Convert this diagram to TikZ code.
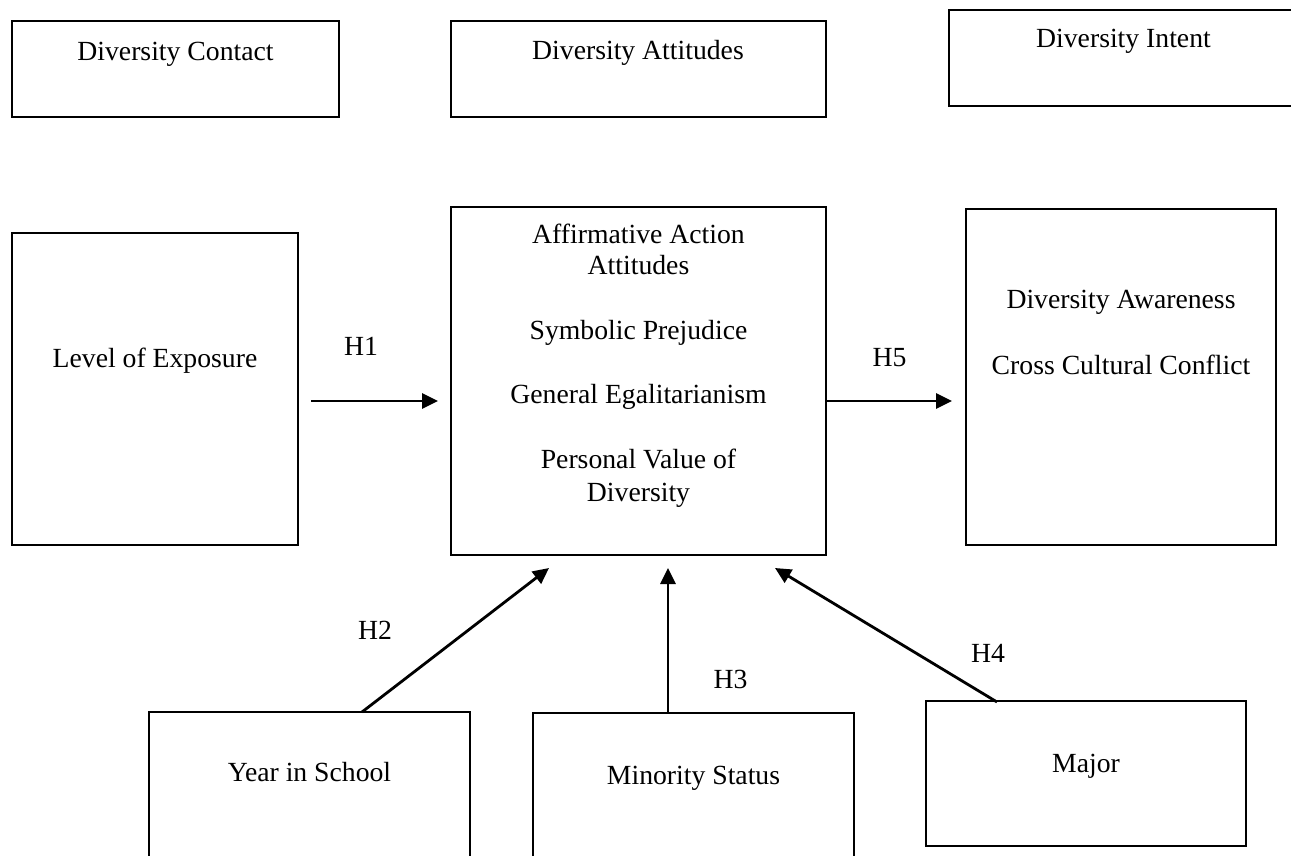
\documentclass[tikz,border=0pt]{standalone}
\usepackage{fontspec}
\setmainfont{Liberation Serif}
\usetikzlibrary{arrows.meta}
\tikzset{
  box/.style={draw=black, line width=1.8pt, outer sep=0pt, inner sep=0pt, anchor=north west, rectangle},
  topbox/.style={box, line width=2.6pt},
  txt/.style={inner sep=0pt, anchor=base, font=\fontsize{27.7}{32}\selectfont},
  arr/.style={draw=black, line width=2.8pt, -{Triangle[length=16pt,width=15pt]}},
}
\begin{document}
\begin{tikzpicture}[x=1pt,y=-1pt]
\clip (0,0) rectangle (1291,855);
\fill[white] (0,0) rectangle (1291,855);
% boxes
\node[topbox, minimum width=327pt, minimum height=96pt] (contact) at (12,21) {};
\node[topbox, minimum width=375pt, minimum height=96pt] (attit) at (451,21) {};
\node[topbox, minimum width=343pt, minimum height=96pt] (intent) at (949,10) {};
\node[box, minimum width=286pt, minimum height=312pt] (expo) at (12,233) {};
\node[box, minimum width=375pt, minimum height=348pt] (center) at (451,207) {};
\node[box, minimum width=310pt, minimum height=336pt] (outc) at (966,209) {};
\node[box, minimum width=321pt, minimum height=170pt] (year) at (149,712) {};
\node[box, minimum width=321pt, minimum height=170pt] (minor) at (533,713) {};
\node[box, minimum width=320pt, minimum height=145pt] (major) at (926,701) {};
% texts
\node[txt] (tcontact) at (175.5,60) {Diversity Contact};
\node[txt] (tattit) at (638,59) {Diversity Attitudes};
\node[txt] (tintent) at (1123.5,47) {Diversity Intent};
\node[txt] (texpo) at (155,367) {Level of Exposure};
\node[txt] (tc1) at (638.5,243) {Affirmative Action};
\node[txt] (tc2) at (638.5,274) {Attitudes};
\node[txt] (tc3) at (638.5,339) {Symbolic Prejudice};
\node[txt] (tc4) at (638.5,403) {General Egalitarianism};
\node[txt] (tc5) at (638.5,468) {Personal Value of};
\node[txt] (tc6) at (638.5,501) {Diversity};
\node[txt] (to1) at (1121,308) {Diversity Awareness};
\node[txt] (to2) at (1121,374) {Cross Cultural Conflict};
\node[txt] (tyear) at (309.5,781) {Year in School};
\node[txt] (tminor) at (693.5,784) {Minority Status};
\node[txt] (tmajor) at (1086,772) {Major};
% hypothesis labels
\node[txt] (h1) at (361,355) {H1};
\node[txt] (h5) at (889.5,366) {H5};
\node[txt] (h2) at (375,639) {H2};
\node[txt] (h3) at (730.5,688) {H3};
\node[txt] (h4) at (988,662) {H4};
% connector end points
\coordinate (h1s) at (311,401);
\coordinate (h1e) at (438,401);
\coordinate (h5s) at (826,401);
\coordinate (h5e) at (952,401);
\coordinate (h2s) at (362,712);
\coordinate (h2e) at (549,568);
\coordinate (h3s) at (668,713);
\coordinate (h3e) at (668,568);
\coordinate (h4s) at (997,702);
\coordinate (h4e) at (775,568);
% connectors
\draw[arr] (h1s) -- (h1e);
\draw[arr] (h5s) -- (h5e);
\draw[arr] (h2s) -- (h2e);
\draw[arr] (h3s) -- (h3e);
\draw[arr] (h4s) -- (h4e);
\end{tikzpicture}
\end{document}
